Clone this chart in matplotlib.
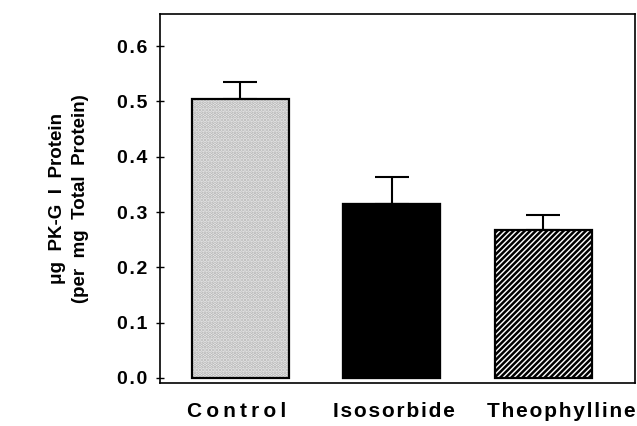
import matplotlib
matplotlib.use('Agg')
from matplotlib import pyplot as plt
from matplotlib import transforms

# PK-G I protein content by treatment
groups = ['Control', 'Isosorbide', 'Theophylline']
means = [0.504, 0.314, 0.267]
errors = [0.032, 0.050, 0.028]
y_ticks = [0.0, 0.1, 0.2, 0.3, 0.4, 0.5, 0.6]

plt.rcParams['font.family'] = ['Liberation Sans', 'DejaVu Sans']
plt.rcParams['hatch.linewidth'] = 1.8

THIN = '\u2009'
HAIR = '\u200a'


def spaced(s, sep):
    # fake letter spacing like the old typesetting
    return sep.join(s)


fig = plt.figure(figsize=(6.37, 4.26), dpi=100)
ax = fig.add_axes([0.251, 0.101, 0.746, 0.866])

x = list(range(len(groups)))
w = 0.64

# stippled control bar: hatch pass then outline pass
ax.bar(x[0], means[0], width=w, color='#f0f0f0', hatch='.....',
       edgecolor='#b0b0b0', linewidth=0, zorder=2)
ax.bar(x[1], means[1], width=w, color='black', edgecolor='black',
       linewidth=1.5, zorder=2)
ax.bar(x[2], means[2], width=w, color='white', hatch='//////',
       edgecolor='black', linewidth=0, zorder=2)
ax.bar(x, means, width=w, fill=False, edgecolor='black', linewidth=1.6, zorder=3)

ax.errorbar(x, means, yerr=[[0] * len(errors), errors], fmt='none',
            ecolor='black', elinewidth=1.5, capsize=12, capthick=1.5, zorder=1)

ax.set_xlim(-0.53, 2.605)
ax.set_ylim(-0.009, 0.658)
ax.set_yticks(y_ticks)
ax.set_yticklabels([spaced('%.1f' % t, HAIR) for t in y_ticks],
                   fontsize=14, fontweight='bold')
ax.tick_params(axis='y', direction='inout', length=6, width=1, pad=6)
ax.set_xticks(x)
ax.set_xticklabels([spaced(groups[0], THIN), spaced(groups[1], HAIR),
                    spaced(groups[2], HAIR)], fontsize=15, fontweight='bold')
ax.tick_params(axis='x', length=0, pad=14)

# nudge the labels sideways as in the original
for lab, dx in zip(ax.get_xticklabels(), [-4, 2, 18]):
    lab.set_transform(lab.get_transform() +
                      transforms.ScaledTranslation(dx / 100, 0, fig.dpi_scale_trans))

for s in ax.spines.values():
    s.set_linewidth(1.2)

ax.set_ylabel('\u03bcg  PK-G  I  Protein\n(per  mg  Total  Protein)',
              fontsize=13.5, fontweight='bold', labelpad=20, linespacing=1.5)

plt.savefig('out.png', dpi=100)
